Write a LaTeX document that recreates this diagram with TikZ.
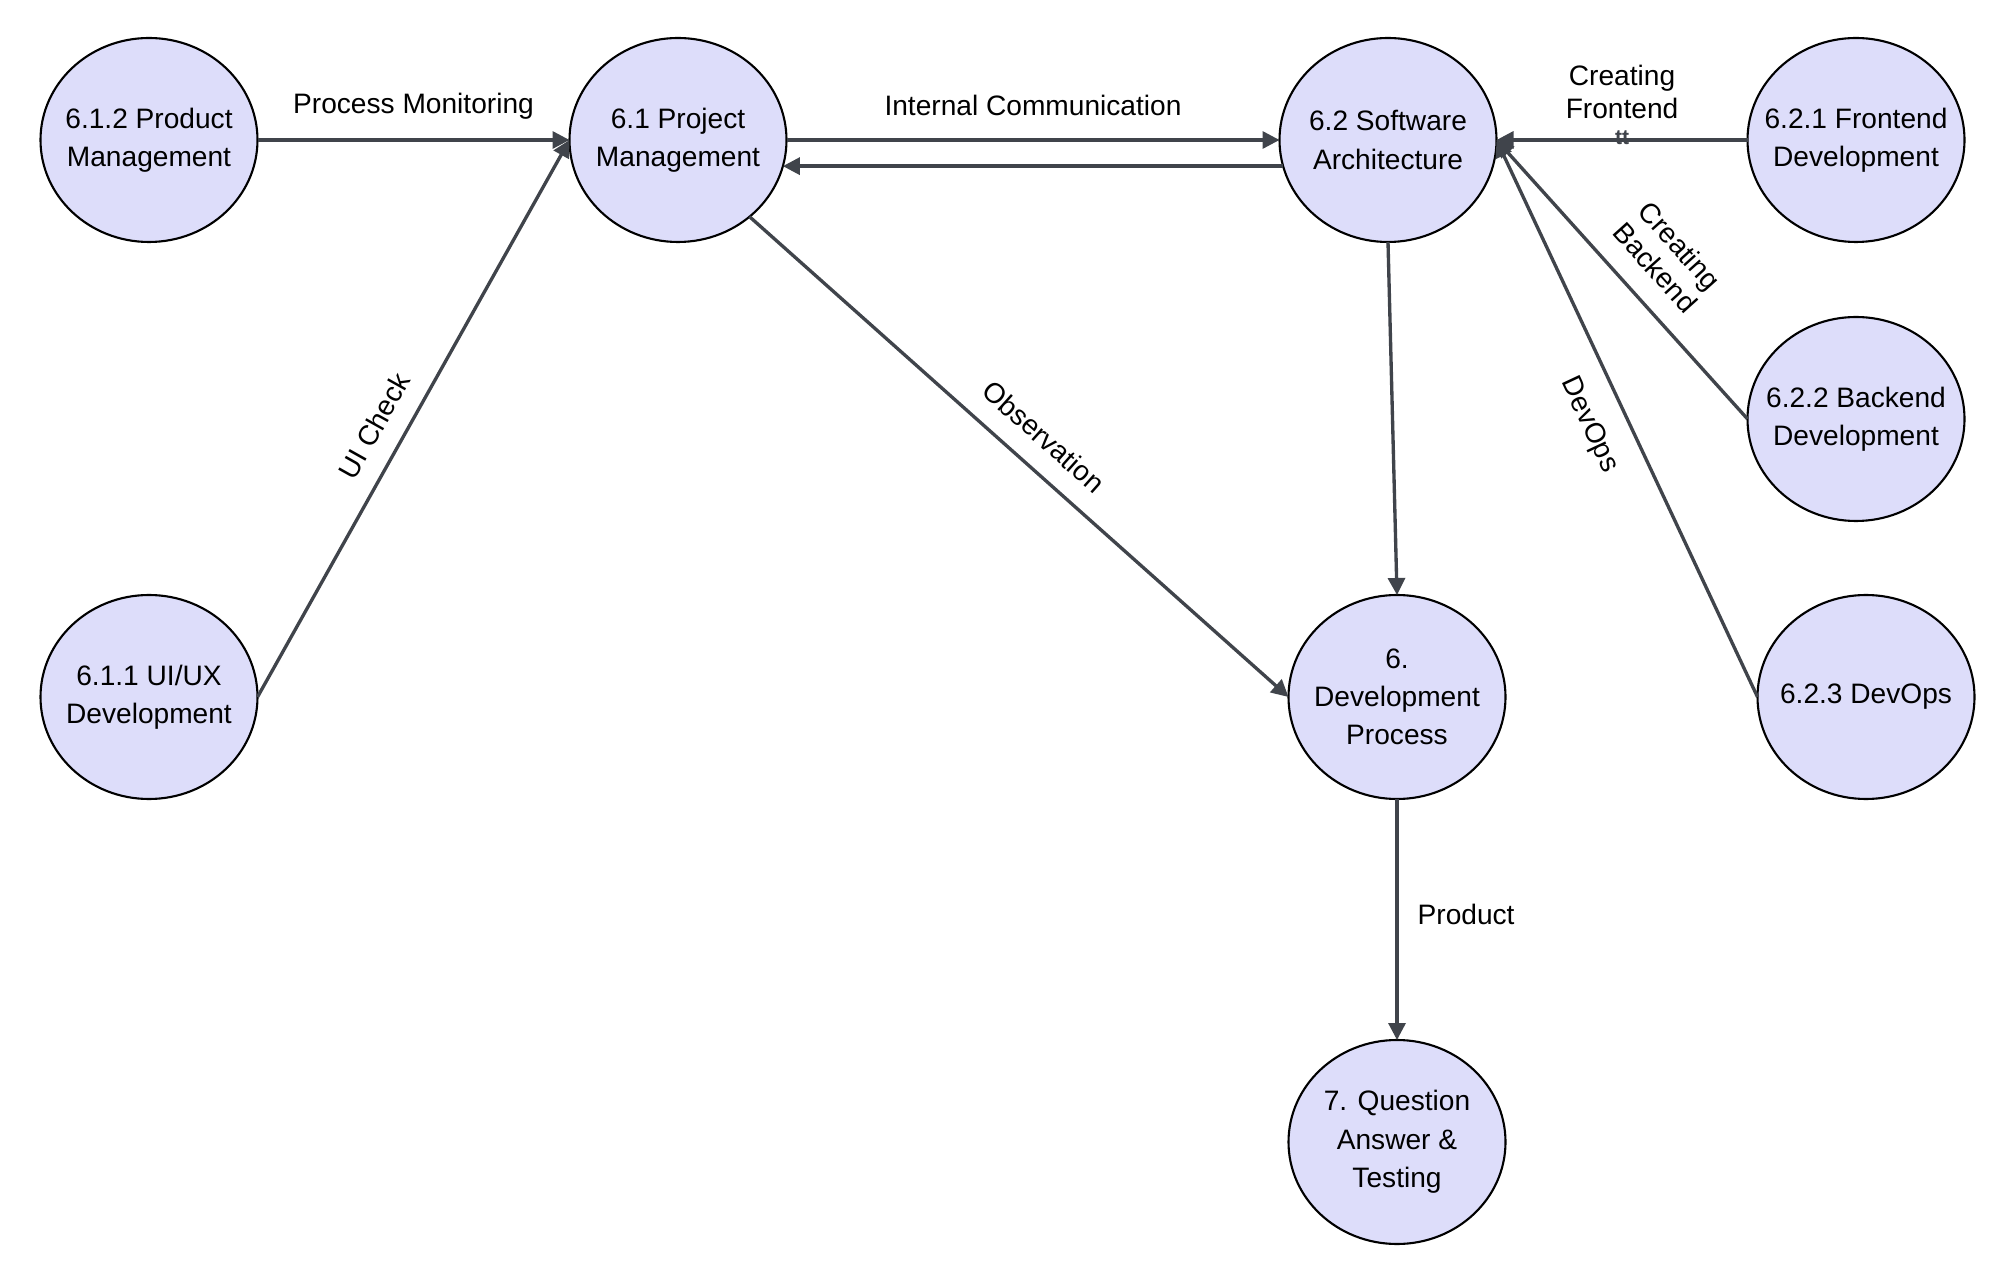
\documentclass[tikz,border=0pt]{standalone}
\usepackage{fontspec}
\setmainfont{Liberation Sans}
\usetikzlibrary{shapes.geometric,arrows.meta}
\definecolor{nodefill}{HTML}{DDDDFA}
\definecolor{edgegray}{HTML}{40444B}
\begin{document}
\begin{tikzpicture}[
  proc/.style={ellipse, draw=black, line width=0.6pt, fill=nodefill,
    minimum width=2.17cm, minimum height=2.04cm,
    inner xsep=-3mm, inner ysep=-1mm, outer sep=0pt,
    align=center, font=\fontsize{8}{10.9}\selectfont},
  flow/.style={draw=edgegray, line width=0.95pt,
    -{Triangle[length=0.17cm,width=0.17cm]}},
  lbl/.style={font=\fontsize{8}{9.3}\selectfont, text=black,
    inner sep=1pt, align=center},
  tinytag/.style={font=\fontsize{6}{6.5}\selectfont\bfseries, text=edgegray, inner sep=0pt}
]
\useasboundingbox (0,0) rectangle (20.15,12.87);

% process nodes
\node[proc] (pm612) at (1.49,11.47) {6.1.2 Product\\Management};
\node[proc] (pj61)  at (6.78,11.47) {6.1 Project\\Management};
\node[proc] (sa62)  at (13.88,11.47) {6.2 Software\\Architecture};
\node[proc] (fe621) at (18.56,11.47) {6.2.1 Frontend\\Development};
\node[proc] (be622) at (18.56,8.68) {6.2.2 Backend\\Development};
\node[proc] (do623) at (18.66,5.90) {6.2.3 DevOps};
\node[proc] (dp6)   at (13.97,5.90) {6.\\Development\\Process};
\node[proc] (qa7)   at (13.97,1.45) {7. Question\\Answer \&\\Testing};
\node[proc] (ux611) at (1.49,5.90) {6.1.1 UI/UX\\Development};

% connectors
\draw[flow] (pm612.east) -- node[lbl, above=4.3pt] {Process Monitoring} (pj61.west);
\draw[flow] (ux611.east) -- node[lbl, pos=0.46, sloped, above=4.3pt] {UI Check} (pj61.west);
\draw[flow] (pj61.east) -- node[lbl, above=5.5pt] {Internal Communication} (sa62.west);
\draw[flow] (sa62.194.6) -- (pj61.-14.6);
\draw[flow] (pj61.-47) -- node[lbl, pos=0.507, sloped, above=4.6pt] {Observation} (dp6.west);
\draw[flow] (sa62.south) -- (dp6.north);
\draw[flow] (dp6.south) -- node[lbl, pos=0.48, right=4.4pt] {Product} (qa7.north);
\draw[flow] (fe621.west) -- node[lbl, above=4.6pt] {Creating\\Frontend}
                            node[tinytag, yshift=0.6pt] {tt} (sa62.east);
\draw[flow] (be622.west) -- node[lbl, pos=0.464, sloped, above=5pt] {Creating\\Backend} (sa62.east);
\draw[flow] (do623.west) -- node[lbl, pos=0.517, sloped, below=5.5pt] {DevOps} (sa62.east);
\end{tikzpicture}
\end{document}
